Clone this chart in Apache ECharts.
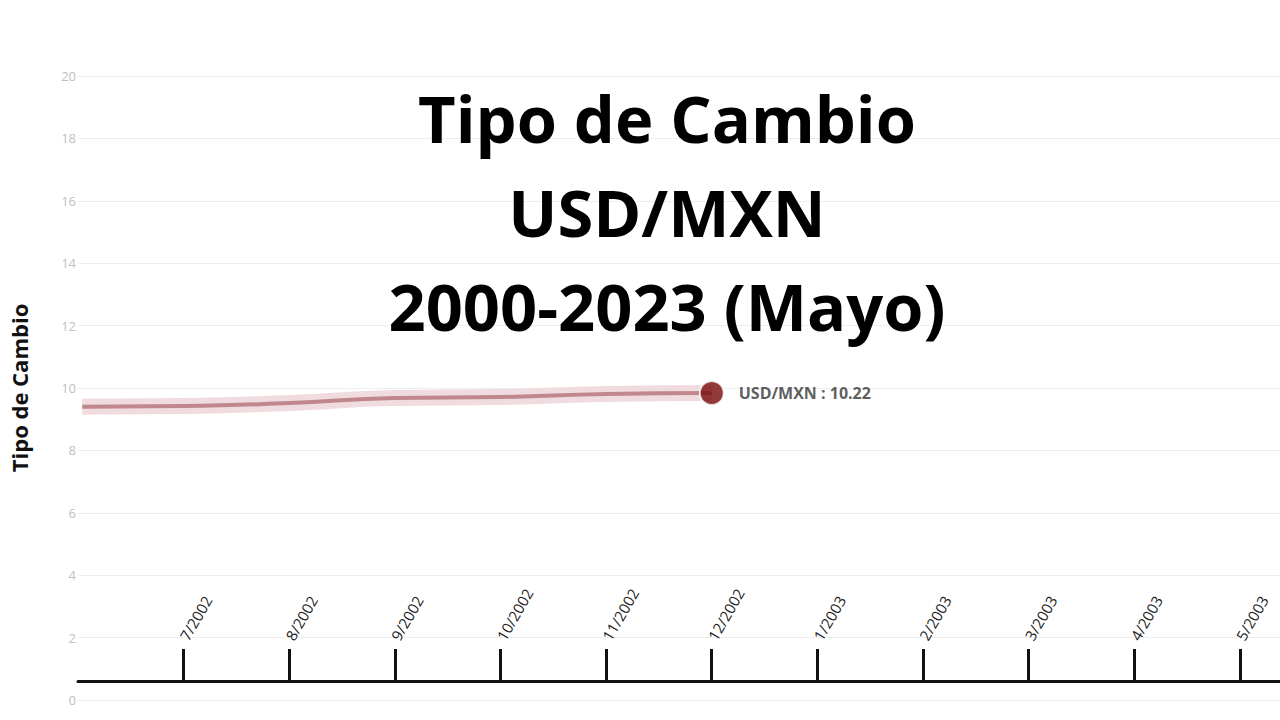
<!DOCTYPE html>
<html><head><meta charset="utf-8">
<script src="https://cdn.jsdelivr.net/npm/echarts@6/dist/echarts.min.js"></script>
<style>html,body{margin:0;background:#fff}#c{width:1280px;height:720px}</style>
</head><body><div id="c"></div>
<script>
// month index 0 = 7/2002
var monthLabels = ['7/2002', '8/2002', '9/2002', '10/2002', '11/2002', '12/2002', '1/2003', '2/2003', '3/2003', '4/2003', '5/2003'];
var lineX = [-0.96, 0, 1, 2, 3, 4, 5];
var lineY = [9.40, 9.42, 9.52, 9.68, 9.71, 9.81, 9.84];
var lastLabel = 10.22;
var titleLines = ['Tipo de Cambio', 'USD/MXN', '2000-2023 (Mayo)'];

var pts = lineX.map(function(x, i) { return [x, lineY[i]]; });
var last = pts[pts.length - 1];

var chart = echarts.init(document.getElementById('c'), null, { renderer: 'svg' });
chart.setOption({
  animation: false,
  title: {
    text: titleLines.join('\n'),
    left: 662, top: 66, textAlign: 'center',
    textStyle: { fontFamily: 'Open Sans', fontWeight: 'bold', fontSize: 65, lineHeight: 94, color: '#000' }
  },
  grid: { left: 74, right: 0, top: 76, bottom: 20 },
  xAxis: {
    type: 'value', min: -1, max: 10.38, interval: 1,
    offset: -19,
    splitLine: { show: false },
    axisLine: { show: true, onZero: false, lineStyle: { color: '#111', width: 3 } },
    axisTick: { show: true, inside: true, length: 32, lineStyle: { color: '#111', width: 3 } },
    axisLabel: {
      inside: true, rotate: 60, margin: 42, showMinLabel: false, showMaxLabel: false,
      fontFamily: 'Open Sans', fontSize: 15, color: '#222', align: 'left',
      formatter: function(v) { var i = Math.round(v); return monthLabels[i] || ''; }
    }
  },
  yAxis: {
    type: 'value', min: 0, max: 20, interval: 2,
    name: 'Tipo de Cambio', nameLocation: 'middle', nameGap: 48, nameRotate: 90,
    nameTextStyle: { fontFamily: 'Open Sans', fontWeight: 'bold', fontSize: 22, color: '#111' },
    axisLine: { show: false }, axisTick: { show: false },
    axisLabel: { color: '#c0c0c0', fontSize: 13, fontFamily: 'Open Sans', margin: 2, align: 'right' },
    splitLine: { lineStyle: { color: '#eeeeee', width: 1 } }
  },
  series: [
    { type: 'line', data: pts, smooth: true, symbol: 'none',
      lineStyle: { color: '#f0dcdf', width: 16 } },
    { type: 'line', data: pts, smooth: true, symbol: 'none',
      lineStyle: { color: '#c0878c', width: 4 } },
    { type: 'scatter', data: [last], symbolSize: 24, z: 10,
      itemStyle: { color: '#780a0a', borderColor: '#fff', borderWidth: 2 },
      label: { show: true, position: 'right', distance: 14,
        formatter: 'USD/MXN : ' + lastLabel.toFixed(2),
        fontFamily: 'Open Sans', fontWeight: 'bold', fontSize: 16, color: '#333' } }
  ]
});
</script></body></html>
